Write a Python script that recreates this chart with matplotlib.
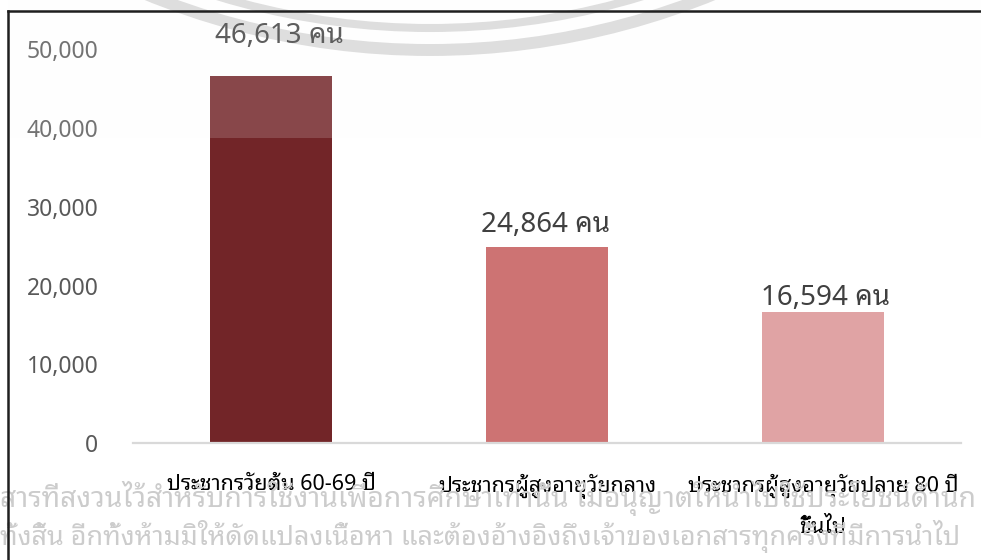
import matplotlib
matplotlib.use("Agg")
import matplotlib.pyplot as plt
from matplotlib.patches import Arc, Rectangle
from matplotlib.lines import Line2D
from matplotlib.ticker import FuncFormatter
from matplotlib.transforms import IdentityTransform

# data
CATEGORIES = ["ประชากรวัยต้น 60-69 ปี",
              "ประชากรผู้สูงอายุวัยกลาง",
              "ประชากรผู้สูงอายุวัยปลาย 80 ปี\nขึ้นไป"]
POPULATION = [46613, 24864, 16594]
Y_TICKS = [0, 10000, 20000, 30000, 40000, 50000]
UNIT = "คน"

WATERMARK = ["สารที่สงวนไว้สำหรับการใช้งานเพื่อการศึกษาเท่านั้น ไม่อนุญาตให้นำไปใช้ประโยชน์ด้านก",
             "ทั้งสิ้น อีกทั้งห้ามมิให้ดัดแปลงเนื้อหา และต้องอ้างอิงถึงเจ้าของเอกสารทุกครั้งที่มีการนำไป"]

BAR_COLORS = ["#722528", "#cd7373", "#e0a3a4"]
LABEL_OFFSETS = [(6, 24), (-1, 11), (2, 5)]  # points, hand placed like the original
FONT = ["Noto Sans Thai Looped", "DejaVu Sans"]

W, H = 981, 560


def main() -> None:
    plt.rcParams["font.family"] = FONT
    fig = plt.figure(figsize=(W / 100, H / 100), dpi=100, facecolor="white")
    ax = fig.add_axes([133 / W, (H - 443) / H, 828 / W, 433 / H])
    ax.patch.set_visible(False)

    x = list(range(len(CATEGORIES)))
    bars = ax.bar(x, POPULATION, width=0.44, color=BAR_COLORS, zorder=2)
    for b, v, (dx, dy) in zip(bars, POPULATION, LABEL_OFFSETS):
        ax.annotate(f"{v:,} {UNIT}", (b.get_x() + b.get_width() / 2, v),
                    xytext=(dx, dy), textcoords="offset points",
                    ha="center", va="baseline", fontsize=20, color="#404040",
                    fontweight="light")

    ax.set_xlim(-0.5, 2.5)
    ax.set_ylim(0, 55000)
    ax.set_yticks(Y_TICKS)
    ax.yaxis.set_major_formatter(FuncFormatter(lambda v, _: f"{v:,.0f}"))
    ax.set_xticks(x)
    ax.set_xticklabels(CATEGORIES, fontsize=15.5, color="black", linespacing=2.15)
    for t in ax.get_yticklabels():
        t.set_fontweight("light")
    ax.tick_params(axis="y", length=0, pad=25, labelsize=16.5, labelcolor="#595959")
    ax.tick_params(axis="x", length=0, pad=22)
    for s in ("top", "right", "left"):
        ax.spines[s].set_visible(False)
    ax.spines["bottom"].set_color("#d9d9d9")
    ax.spines["bottom"].set_linewidth(1.6)

    # faint logo arcs behind the chart (pixel coordinates, origin bottom-left)
    px = IdentityTransform()
    for r, lw in ((728, 5.8), (750, 8.6)):
        fig.add_artist(Arc((430, H + 700), 2 * r, 2 * r, theta1=240, theta2=300,
                           color="#d9d9d9", lw=lw, transform=px, zorder=-1))

    # light wash over the top band of the page
    fig.add_artist(Rectangle((8, H - 138), W, 138, facecolor="#fcfcfc", alpha=0.16,
                             edgecolor="none", transform=px, zorder=5))

    # watermark text
    fig.text(0 / W, (H - 507) / H, WATERMARK[0], fontsize=20.4, color="#cccccc",
             ha="left", va="baseline", zorder=0)
    fig.text(0 / W, (H - 545) / H, WATERMARK[1], fontsize=19.4, color="#cccccc",
             ha="left", va="baseline", zorder=0)

    # page frame lines
    fig.add_artist(Line2D([7.5, 7.5], [0, H - 10.5], color="#1f1f1f", lw=1.8,
                          transform=px, zorder=6))
    fig.add_artist(Line2D([7.5, W], [H - 10.5, H - 10.5], color="#1f1f1f", lw=1.8,
                          transform=px, zorder=6))

    fig.savefig("out.png", dpi=100, facecolor="white")


if __name__ == "__main__":
    main()
